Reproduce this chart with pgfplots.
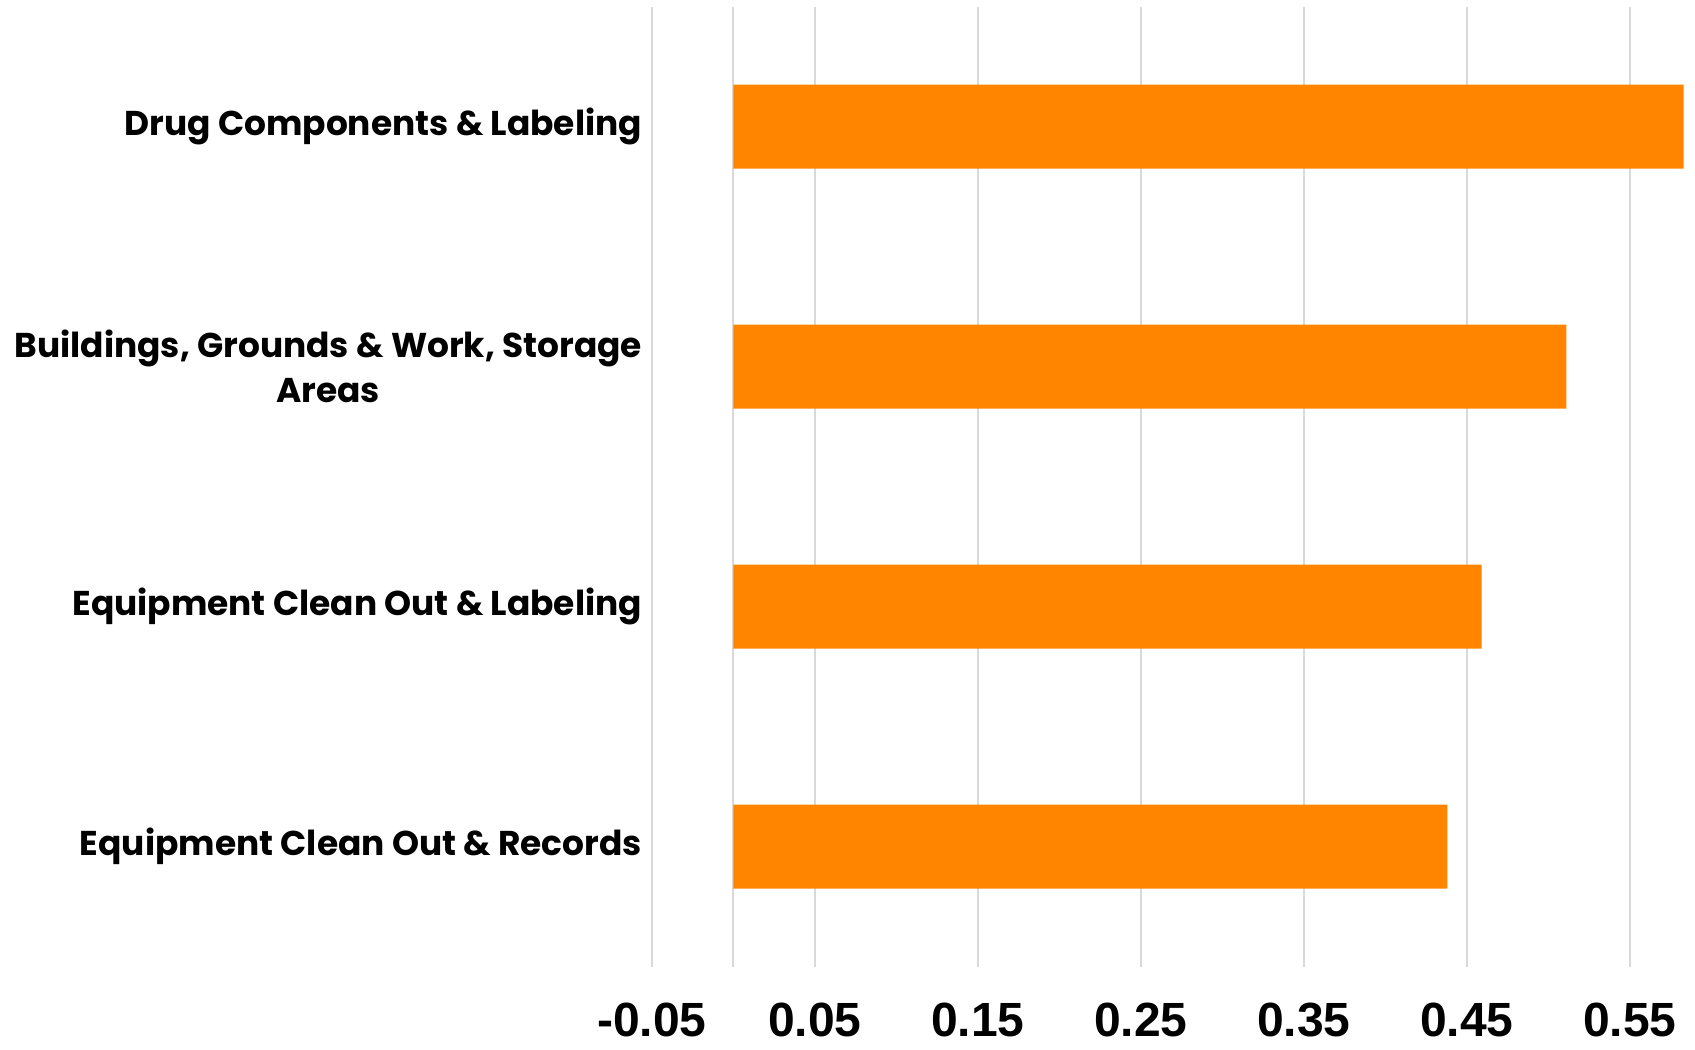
\documentclass[border=0pt]{standalone}
\usepackage{fontspec}
\setmainfont{Poppins}
\newfontfamily\tickfont{Liberation Sans}
\usepackage{pgfplots}
\pgfplotsset{compat=1.18}
\definecolor{barorange}{HTML}{FF8400}
\definecolor{gridgray}{HTML}{D9D9D9}

\begin{document}
\begin{tikzpicture}
\begin{axis}[
    xbar,
    scale only axis,
    width=521.5pt, height=480pt,
    xmin=-0.05, xmax=0.59,
    ymin=0.5, ymax=4.5,
    y dir=reverse,
    axis line style={draw=none},
    major tick length=0pt,
    xtick={-0.05,0.05,0.15,0.25,0.35,0.45,0.55},
    xticklabels={-0.05,0.05,0.15,0.25,0.35,0.45,0.55},
    xticklabel style={font=\tickfont\bfseries\fontsize{24}{28}\selectfont, inner sep=1pt, yshift=-17pt},
    extra x ticks={0},
    extra x tick labels={},
    extra x tick style={grid=major},
    xmajorgrids,
    major grid style={gridgray, line width=1pt},
    ytick={1,2,3,4},
    yticklabels={Drug Components \& Labeling, {Buildings, Grounds \& Work, Storage\\Areas}, Equipment Clean Out \& Labeling, Equipment Clean Out \& Records},
    yticklabel style={align=center, xshift=-1.5pt, font=\bfseries\fontsize{17.2}{22.7}\selectfont},
    bar width=42pt,
]
\addplot[draw=none, fill=barorange] coordinates {(0.583,1) (0.511,2) (0.459,3) (0.438,4)};
\coordinate (bl) at (axis cs:-0.05,4.5);
\coordinate (tr) at (axis cs:0.59,0.5);
\end{axis}
\pgfresetboundingbox
\path[use as bounding box] ([xshift=-326pt,yshift=-41.25pt]bl) rectangle ([yshift=3.25pt]tr);
\end{tikzpicture}
\end{document}
